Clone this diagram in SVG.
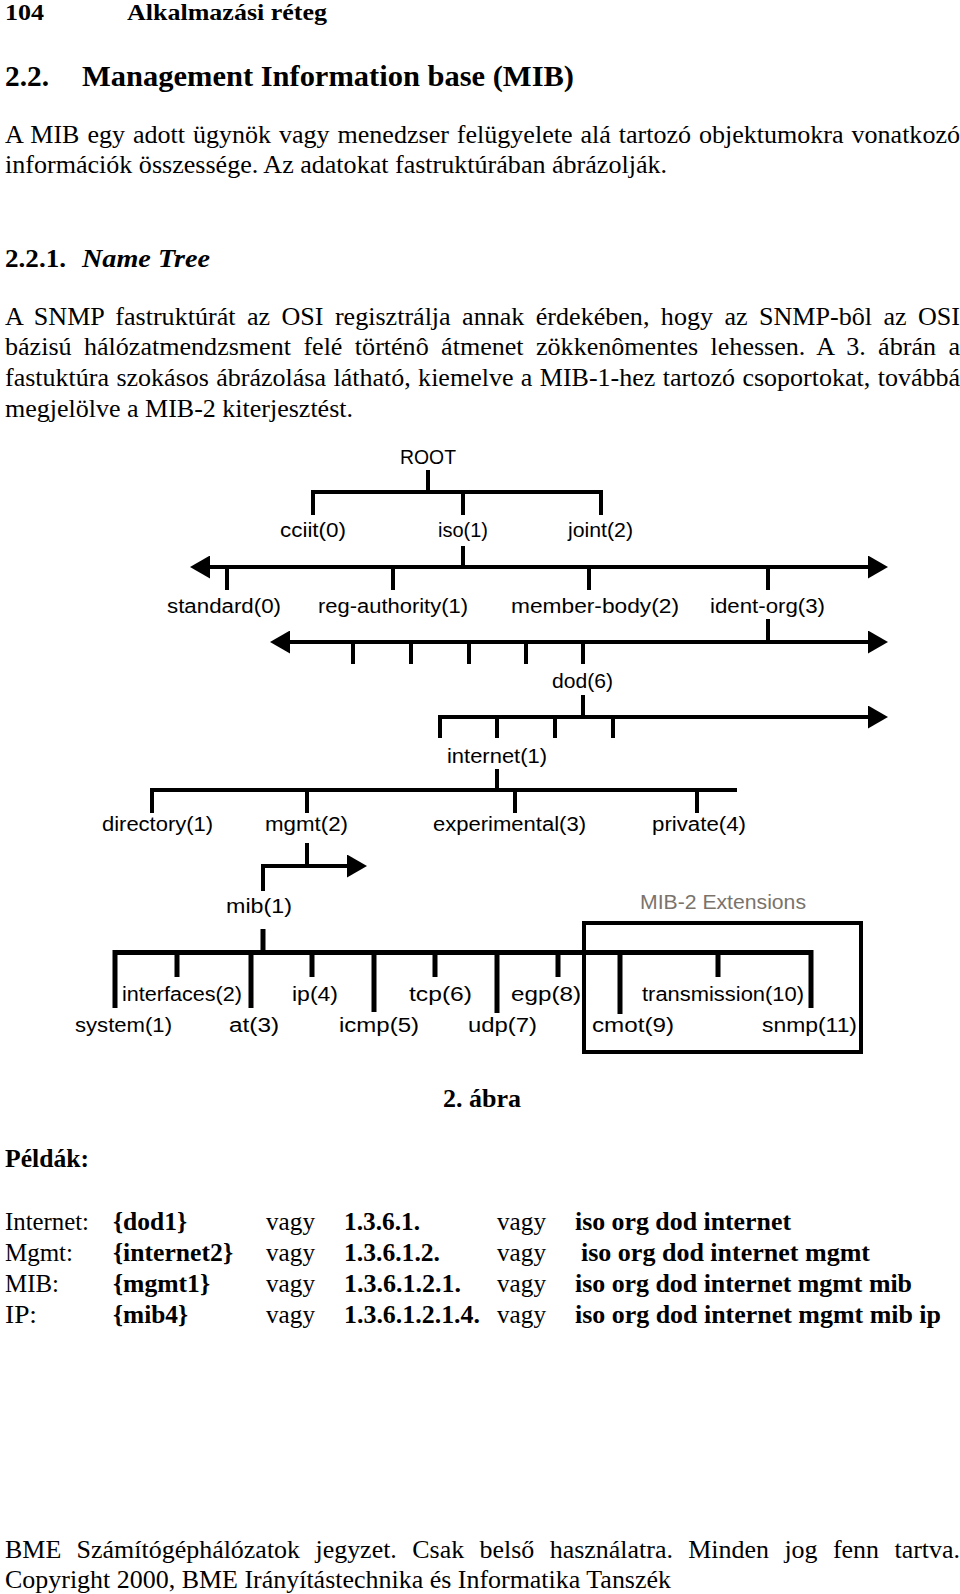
<svg xmlns="http://www.w3.org/2000/svg" width="960" height="1594" viewBox="0 0 960 1594">
<style>
.t{font-family:"Liberation Serif","Times New Roman",serif;font-size:26px;fill:#000}
.e{font-size:25px}
.b{font-weight:bold}
.bi{font-weight:bold;font-style:italic}
.n{font-family:"Liberation Sans",Arial,sans-serif;font-size:20px;fill:#000}
.g{fill:#7a736c}
.ln{fill:none;stroke:#000;stroke-width:4;stroke-linecap:butt;stroke-linejoin:miter}
.th{stroke-width:5}
</style>
<defs>
<marker id="ah" markerUnits="userSpaceOnUse" markerWidth="20" markerHeight="23" refX="0" refY="11.5" orient="auto-start-reverse"><path d="M0,0 L20,11.5 L0,23 z" fill="#000"/></marker>
</defs>
<rect width="960" height="1594" fill="#fff"/>
<g id="page-text">
<text class="t b" x="5" y="20" style="font-size:24px" textLength="39" lengthAdjust="spacingAndGlyphs">104</text>
<text class="t b" x="127" y="20" style="font-size:24px" textLength="200" lengthAdjust="spacingAndGlyphs">Alkalmazási réteg</text>
<text class="t b" x="5" y="86" style="font-size:30px" textLength="44" lengthAdjust="spacingAndGlyphs">2.2.</text>
<text class="t b" x="82" y="86" style="font-size:30px" textLength="492" lengthAdjust="spacingAndGlyphs">Management Information base (MIB)</text>
<text class="t" x="5" y="143" word-spacing="1.4" textLength="955" lengthAdjust="spacingAndGlyphs">A MIB egy adott ügynök vagy menedzser felügyelete alá tartozó objektumokra vonatkozó</text>
<text class="t" x="5" y="173" textLength="662" lengthAdjust="spacingAndGlyphs">információk összessége. Az adatokat fastruktúrában ábrázolják.</text>
<text class="t b" x="5" y="267" textLength="61" lengthAdjust="spacingAndGlyphs">2.2.1.</text>
<text class="t bi" x="82" y="267" textLength="128" lengthAdjust="spacingAndGlyphs">Name Tree</text>
<text class="t" x="5" y="325" word-spacing="4.9" textLength="955" lengthAdjust="spacingAndGlyphs">A SNMP fastruktúrát az OSI regisztrálja annak érdekében, hogy az SNMP-bôl az OSI</text>
<text class="t" x="5" y="355" word-spacing="5.9" textLength="955" lengthAdjust="spacingAndGlyphs">bázisú hálózatmendzsment felé történô átmenet zökkenômentes lehessen. A 3. ábrán a</text>
<text class="t" x="5" y="386" word-spacing="0.9" textLength="955" lengthAdjust="spacingAndGlyphs">fastuktúra szokásos ábrázolása látható, kiemelve a MIB-1-hez tartozó csoportokat, továbbá</text>
<text class="t" x="5" y="417" textLength="348" lengthAdjust="spacingAndGlyphs">megjelölve a MIB-2 kiterjesztést.</text>
<text class="t e b" x="443" y="1107" textLength="78" lengthAdjust="spacingAndGlyphs">2. ábra</text>
<text class="t e b" x="5" y="1167" textLength="84" lengthAdjust="spacingAndGlyphs">Példák:</text>
<text class="t e" x="5" y="1230" textLength="84" lengthAdjust="spacingAndGlyphs">Internet:</text>
<text class="t e b" x="113" y="1230" textLength="74" lengthAdjust="spacingAndGlyphs">{dod1}</text>
<text class="t e" x="266" y="1230" textLength="49" lengthAdjust="spacingAndGlyphs">vagy</text>
<text class="t e b" x="344" y="1230" textLength="76" lengthAdjust="spacingAndGlyphs">1.3.6.1.</text>
<text class="t e" x="497" y="1230" textLength="49" lengthAdjust="spacingAndGlyphs">vagy</text>
<text class="t e b" x="575" y="1230" textLength="216" lengthAdjust="spacingAndGlyphs">iso org dod internet</text>
<text class="t e" x="5" y="1261" textLength="68" lengthAdjust="spacingAndGlyphs">Mgmt:</text>
<text class="t e b" x="113" y="1261" textLength="120" lengthAdjust="spacingAndGlyphs">{internet2}</text>
<text class="t e" x="266" y="1261" textLength="49" lengthAdjust="spacingAndGlyphs">vagy</text>
<text class="t e b" x="344" y="1261" textLength="96" lengthAdjust="spacingAndGlyphs">1.3.6.1.2.</text>
<text class="t e" x="497" y="1261" textLength="49" lengthAdjust="spacingAndGlyphs">vagy</text>
<text class="t e b" x="581" y="1261" textLength="289" lengthAdjust="spacingAndGlyphs">iso org dod internet mgmt</text>
<text class="t e" x="5" y="1292" textLength="54" lengthAdjust="spacingAndGlyphs">MIB:</text>
<text class="t e b" x="113" y="1292" textLength="97" lengthAdjust="spacingAndGlyphs">{mgmt1}</text>
<text class="t e" x="266" y="1292" textLength="49" lengthAdjust="spacingAndGlyphs">vagy</text>
<text class="t e b" x="344" y="1292" textLength="117" lengthAdjust="spacingAndGlyphs">1.3.6.1.2.1.</text>
<text class="t e" x="497" y="1292" textLength="49" lengthAdjust="spacingAndGlyphs">vagy</text>
<text class="t e b" x="575" y="1292" textLength="337" lengthAdjust="spacingAndGlyphs">iso org dod internet mgmt mib</text>
<text class="t e" x="5" y="1323" textLength="32" lengthAdjust="spacingAndGlyphs">IP:</text>
<text class="t e b" x="113" y="1323" textLength="75" lengthAdjust="spacingAndGlyphs">{mib4}</text>
<text class="t e" x="266" y="1323" textLength="49" lengthAdjust="spacingAndGlyphs">vagy</text>
<text class="t e b" x="344" y="1323" textLength="136" lengthAdjust="spacingAndGlyphs">1.3.6.1.2.1.4.</text>
<text class="t e" x="497" y="1323" textLength="49" lengthAdjust="spacingAndGlyphs">vagy</text>
<text class="t e b" x="575" y="1323" textLength="366" lengthAdjust="spacingAndGlyphs">iso org dod internet mgmt mib ip</text>
<text class="t" x="5" y="1558" word-spacing="8.9" textLength="955" lengthAdjust="spacingAndGlyphs">BME Számítógéphálózatok jegyzet. Csak belső használatra. Minden jog fenn tartva.</text>
<text class="t" x="5" y="1588" textLength="666" lengthAdjust="spacingAndGlyphs">Copyright 2000, BME Irányítástechnika és Informatika Tanszék</text>
</g>
<g id="connectors">
<path class="ln" d="M428,470V492"/>
<path class="ln" d="M313,515V492H601V515"/>
<path class="ln" d="M463,492V515"/>
<path class="ln" d="M463,546V567"/>
<path class="ln" d="M210,567H868" marker-start="url(#ah)" marker-end="url(#ah)"/>
<path class="ln" d="M227,567V590M393,567V590M589,567V590M768,567V590"/>
<path class="ln" d="M768,619V642"/>
<path class="ln" d="M290,642H868" marker-start="url(#ah)" marker-end="url(#ah)"/>
<path class="ln" d="M353,642V664M411,642V664M469,642V664M526,642V664M583,642V664"/>
<path class="ln" d="M583,695V717"/>
<path class="ln" d="M440,738V717H868" marker-end="url(#ah)"/>
<path class="ln" d="M497,717V738M555,717V738M613,717V738"/>
<path class="ln" d="M497,769V790"/>
<path class="ln" d="M152,813V790H737"/>
<path class="ln" d="M307,790V813M515,790V813M697,790V813"/>
<path class="ln" d="M307,843V866"/>
<path class="ln" d="M263,891V866H347" marker-end="url(#ah)"/>
<path class="ln th" d="M263,929V952"/>
<path class="ln th" d="M115,1008V952.5H811V1008"/>
<path class="ln th" d="M177,952V977M251,952V1008M312,952V977M374,952V1012M435,952V977M497,952V1013M558,952V977M620,952V1014M718,952V977"/>
<rect class="ln" x="584" y="923" width="277" height="129"/>
</g>
<g id="n-root"><text class="n" x="400" y="464" textLength="56" lengthAdjust="spacingAndGlyphs">ROOT</text></g>
<g id="n-ccitt"><text class="n" x="280" y="537" textLength="66" lengthAdjust="spacingAndGlyphs">cciit(0)</text></g>
<g id="n-iso"><text class="n" x="438" y="537" textLength="50" lengthAdjust="spacingAndGlyphs">iso(1)</text></g>
<g id="n-joint"><text class="n" x="568" y="537" textLength="65" lengthAdjust="spacingAndGlyphs">joint(2)</text></g>
<g id="n-standard"><text class="n" x="167" y="613" textLength="114" lengthAdjust="spacingAndGlyphs">standard(0)</text></g>
<g id="n-reg-authority"><text class="n" x="318" y="613" textLength="150" lengthAdjust="spacingAndGlyphs">reg-authority(1)</text></g>
<g id="n-member-body"><text class="n" x="511" y="613" textLength="168" lengthAdjust="spacingAndGlyphs">member-body(2)</text></g>
<g id="n-ident-org"><text class="n" x="710" y="613" textLength="115" lengthAdjust="spacingAndGlyphs">ident-org(3)</text></g>
<g id="n-dod"><text class="n" x="552" y="688" textLength="61" lengthAdjust="spacingAndGlyphs">dod(6)</text></g>
<g id="n-internet"><text class="n" x="447" y="763" textLength="100" lengthAdjust="spacingAndGlyphs">internet(1)</text></g>
<g id="n-directory"><text class="n" x="102" y="831" textLength="111" lengthAdjust="spacingAndGlyphs">directory(1)</text></g>
<g id="n-mgmt"><text class="n" x="265" y="831" textLength="83" lengthAdjust="spacingAndGlyphs">mgmt(2)</text></g>
<g id="n-experimental"><text class="n" x="433" y="831" textLength="153" lengthAdjust="spacingAndGlyphs">experimental(3)</text></g>
<g id="n-private"><text class="n" x="652" y="831" textLength="94" lengthAdjust="spacingAndGlyphs">private(4)</text></g>
<g id="n-mib"><text class="n" x="226" y="913" textLength="66" lengthAdjust="spacingAndGlyphs">mib(1)</text></g>
<g id="n-mib2-ext"><text class="n g" x="640" y="909" textLength="166" lengthAdjust="spacingAndGlyphs">MIB-2 Extensions</text></g>
<g id="n-system"><text class="n" x="75" y="1032" textLength="97" lengthAdjust="spacingAndGlyphs">system(1)</text></g>
<g id="n-interfaces"><text class="n" x="122" y="1001" textLength="120" lengthAdjust="spacingAndGlyphs">interfaces(2)</text></g>
<g id="n-at"><text class="n" x="229" y="1032" textLength="50" lengthAdjust="spacingAndGlyphs">at(3)</text></g>
<g id="n-ip"><text class="n" x="292" y="1001" textLength="46" lengthAdjust="spacingAndGlyphs">ip(4)</text></g>
<g id="n-icmp"><text class="n" x="339" y="1032" textLength="80" lengthAdjust="spacingAndGlyphs">icmp(5)</text></g>
<g id="n-tcp"><text class="n" x="409" y="1001" textLength="63" lengthAdjust="spacingAndGlyphs">tcp(6)</text></g>
<g id="n-udp"><text class="n" x="468" y="1032" textLength="69" lengthAdjust="spacingAndGlyphs">udp(7)</text></g>
<g id="n-egp"><text class="n" x="511" y="1001" textLength="70" lengthAdjust="spacingAndGlyphs">egp(8)</text></g>
<g id="n-cmot"><text class="n" x="592" y="1032" textLength="82" lengthAdjust="spacingAndGlyphs">cmot(9)</text></g>
<g id="n-transmission"><text class="n" x="642" y="1001" textLength="162" lengthAdjust="spacingAndGlyphs">transmission(10)</text></g>
<g id="n-snmp"><text class="n" x="762" y="1032" textLength="95" lengthAdjust="spacingAndGlyphs">snmp(11)</text></g>
</svg>
